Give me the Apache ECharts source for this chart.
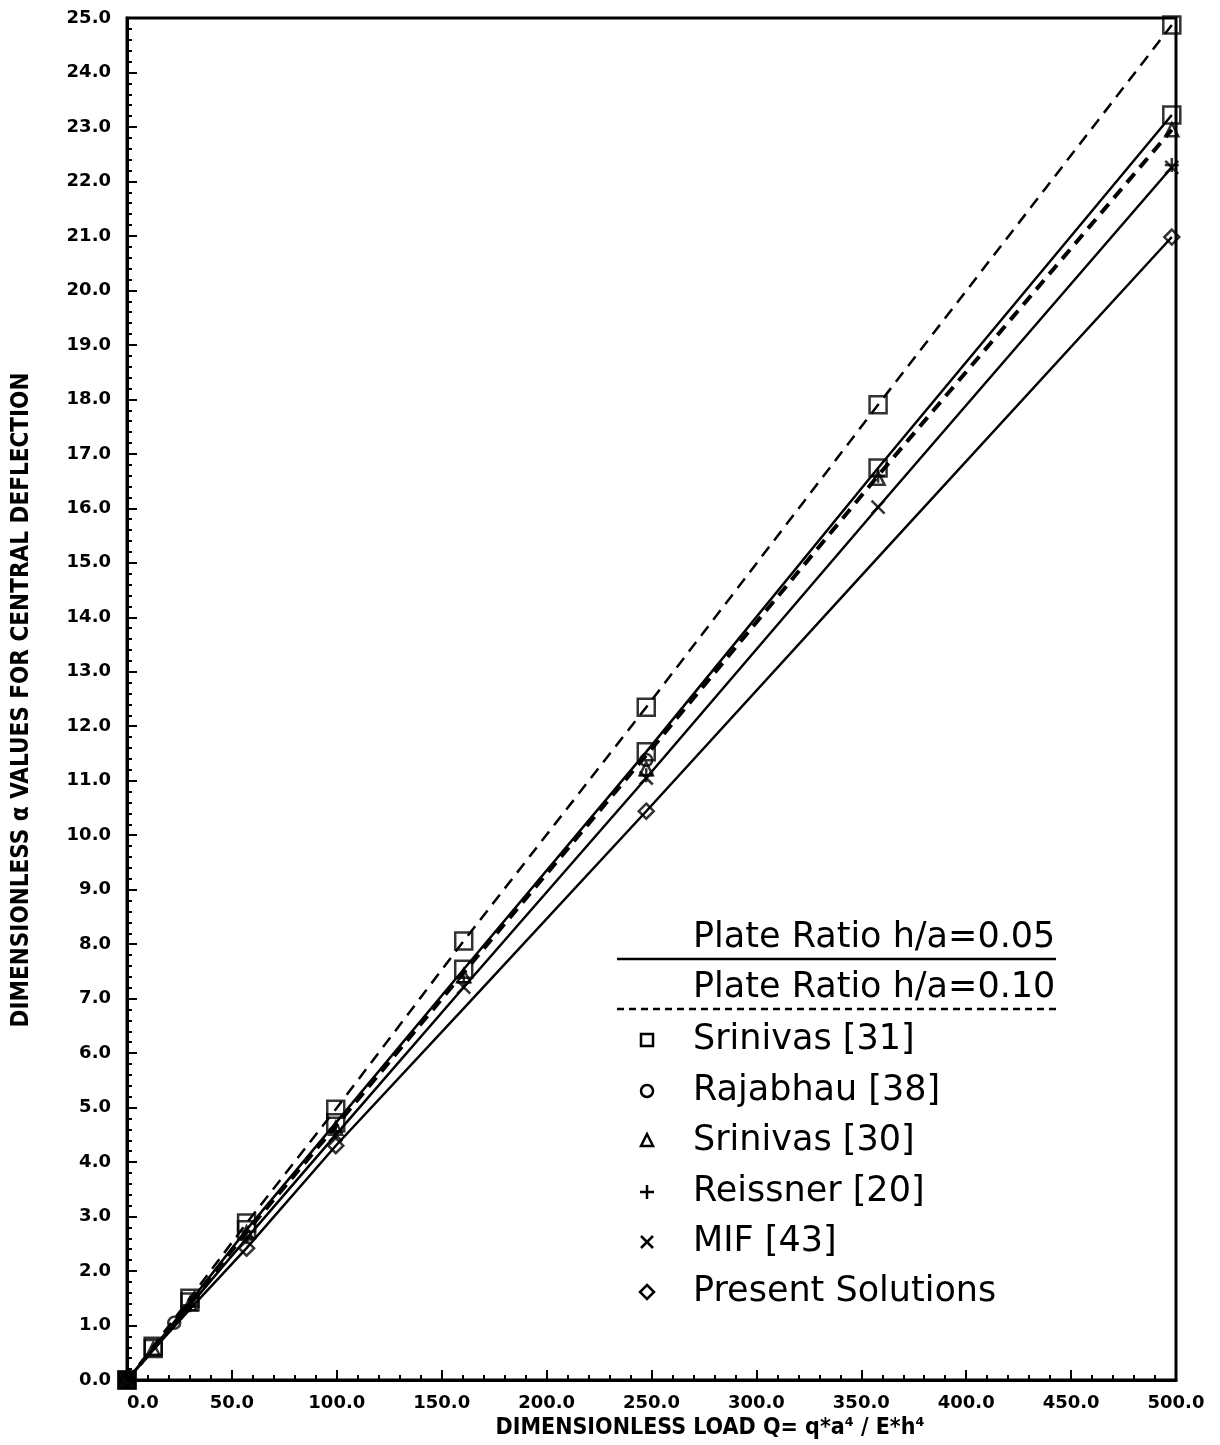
<!DOCTYPE html>
<html>
<head>
<meta charset="utf-8">
<script src="https://cdn.jsdelivr.net/npm/echarts@6/dist/echarts.min.js"></script>
<style>
html,body{margin:0;padding:0;background:#fff;}
#chart{width:1220px;height:1445px;}
</style>
</head>
<body>
<div id="chart"></div>
<script>
// Dimensionless load values Q
const loadQ = [0, 12.5, 30, 57, 99.5, 160.5, 247.5, 358, 498];
// Curves (alpha values)
const srinivas31H010 = [0, 0.62, 1.50, 2.88, 4.97, 8.06, 12.35, 17.90, 24.87];
const srinivas31H005 = [0, 0.58, 1.43, 2.76, 4.72, 7.54, 11.53, 16.74, 23.22];
const otherH010 = [0, 0.57, 1.41, 2.72, 4.66, 7.48, 11.47, 16.60, 22.95];
const reissnerH005 = [0, 0.56, 1.37, 2.60, 4.50, 7.21, 11.05, 16.02, 22.26];
const presentH005 = [0, 0.55, 1.30, 2.42, 4.30, 6.82, 10.44, 15.10, 20.98];
// Marker sets
const rajabhauQ = [22.5, 247.5];
const rajabhauV = [1.05, 11.38];
const srinivas30Q = [12.5, 30, 57, 99.5, 160.5, 247.5, 358, 498];
const srinivas30V = [0.57, 1.40, 2.70, 4.62, 7.42, 11.22, 16.55, 22.95];
const reissnerQ = [30, 57, 99.5, 160.5, 247.5, 358, 498];
const reissnerV = [1.37, 2.62, 4.55, 7.30, 11.10, 16.60, 22.30];
const mifQ = [99.5, 160.5, 247.5, 358, 498];
const mifV = [4.50, 7.21, 11.05, 16.02, 22.26];
const presentQ = [0, 57, 99.5, 247.5, 498];
const presentV = [0, 2.42, 4.30, 10.44, 20.98];
// Legend texts
const ratioLabels = ['Plate Ratio h/a=0.05', 'Plate Ratio h/a=0.10'];
const markerLabels = ['Srinivas [31]', 'Rajabhau [38]', 'Srinivas [30]', 'Reissner [20]', 'MIF [43]', 'Present Solutions'];

function pairs(xs, ys) { return xs.map((x, i) => [x, ys[i]]); }

const chart = echarts.init(document.getElementById('chart'), null, {renderer: 'canvas'});
const tickFont = {fontFamily: 'DejaVu Sans', fontWeight: 'bold', fontSize: 18, color: '#000'};
const titleFont = '"DejaVu Sans Condensed", "Liberation Sans Narrow", sans-serif';
const legFont = '35px "DejaVu Sans"';

function lineSeries(name, ys, width, dash) {
  return {
    name: name, type: 'line', data: pairs(loadQ, ys), symbol: 'none', z: 2,
    lineStyle: {color: '#000', width: width, type: dash ? dash : 'solid'}
  };
}
function markerSeries(name, data, symbol, size) {
  return {
    name: name, type: 'scatter', data: data, symbol: symbol, symbolSize: size, z: 4,
    itemStyle: {color: 'rgba(0,0,0,0)', borderColor: '#000', borderWidth: 2.5}
  };
}
const squareData = pairs(loadQ, srinivas31H010).concat(pairs(loadQ, srinivas31H005)).map(p =>
  p[0] === 0 ? {value: p, itemStyle: {color: '#000'}} : p);

const plusPath = 'path://M5,0L5,10M0,5L10,5';
const crossPath = 'path://M0,0L10,10M0,10L10,0';

const legX = 647, legTextX = 693;
const rowY = [1040, 1091, 1141, 1192, 1242, 1292];
const graphic = [
  {type: 'text', x: 710, y: 1428, style: {text: 'DIMENSIONLESS LOAD Q= q*a\u2074 / E*h\u2074', font: 'bold 23px ' + titleFont, fill: '#000', align: 'center', verticalAlign: 'middle'}},
  {type: 'text', x: 22, y: 700, rotation: Math.PI / 2, style: {text: 'DIMENSIONLESS \u03b1 VALUES FOR CENTRAL DEFLECTION', font: 'bold 24px ' + titleFont, fill: '#000', align: 'center', verticalAlign: 'middle'}},
  {type: 'text', x: legTextX, y: 938, style: {text: ratioLabels[0], font: legFont, fill: '#000', align: 'left', verticalAlign: 'middle'}},
  {type: 'line', shape: {x1: 617, y1: 959, x2: 1056, y2: 959}, style: {stroke: '#000', lineWidth: 2.5}},
  {type: 'text', x: legTextX, y: 988, style: {text: ratioLabels[1], font: legFont, fill: '#000', align: 'left', verticalAlign: 'middle'}},
  {type: 'line', shape: {x1: 617, y1: 1009, x2: 1056, y2: 1009}, style: {stroke: '#000', lineWidth: 2.5, lineDash: [7, 5]}},
  {type: 'rect', shape: {x: legX - 6, y: rowY[0] - 6, width: 12, height: 12}, style: {fill: 'none', stroke: '#000', lineWidth: 2.5}},
  {type: 'circle', shape: {cx: legX, cy: rowY[1], r: 6}, style: {fill: 'none', stroke: '#000', lineWidth: 2.5}},
  {type: 'polygon', shape: {points: [[legX, rowY[2] - 7], [legX + 6, rowY[2] + 5], [legX - 6, rowY[2] + 5]]}, style: {fill: 'none', stroke: '#000', lineWidth: 2.5}},
  {type: 'polyline', shape: {points: [[legX, rowY[3] - 7], [legX, rowY[3] + 7]]}, style: {stroke: '#000', lineWidth: 2.5}},
  {type: 'polyline', shape: {points: [[legX - 7, rowY[3]], [legX + 7, rowY[3]]]}, style: {stroke: '#000', lineWidth: 2.5}},
  {type: 'polyline', shape: {points: [[legX - 6, rowY[4] - 6], [legX + 6, rowY[4] + 6]]}, style: {stroke: '#000', lineWidth: 2.5}},
  {type: 'polyline', shape: {points: [[legX - 6, rowY[4] + 6], [legX + 6, rowY[4] - 6]]}, style: {stroke: '#000', lineWidth: 2.5}},
  {type: 'polygon', shape: {points: [[legX, rowY[5] - 7], [legX + 7, rowY[5]], [legX, rowY[5] + 7], [legX - 7, rowY[5]]]}, style: {fill: 'none', stroke: '#000', lineWidth: 2.5}}
];
markerLabels.forEach((t, i) => {
  graphic.push({type: 'text', x: legTextX, y: rowY[i], style: {text: t, font: legFont, fill: '#000', align: 'left', verticalAlign: 'middle'}});
});

const option = {
  animation: false,
  backgroundColor: '#fff',
  grid: {left: 127, right: 44, top: 18, bottom: 65, containLabel: false, show: true, borderColor: '#000', borderWidth: 3, backgroundColor: 'rgba(0,0,0,0)'},
  xAxis: {
    type: 'value', min: 0, max: 500, interval: 50,
    axisLine: {show: true, lineStyle: {color: '#000', width: 3}},
    axisTick: {show: true, inside: true, length: 10, lineStyle: {color: '#000', width: 2}},
    minorTick: {show: true, splitNumber: 5, length: 5, lineStyle: {color: '#000', width: 2}},
    splitLine: {show: false},
    axisLabel: Object.assign({margin: 14, formatter: v => v.toFixed(1), alignMinLabel: 'left'}, tickFont)
  },
  yAxis: {
    type: 'value', min: 0, max: 25, interval: 1,
    axisLine: {show: true, lineStyle: {color: '#000', width: 3}},
    axisTick: {show: true, inside: true, length: 10, lineStyle: {color: '#000', width: 2}},
    minorTick: {show: true, splitNumber: 5, length: 5, lineStyle: {color: '#000', width: 2}},
    splitLine: {show: false},
    axisLabel: Object.assign({margin: 16, formatter: v => v.toFixed(1)}, tickFont)
  },
  series: [
    lineSeries('Srinivas [31] h/a=0.10', srinivas31H010, 2.5, [12, 8]),
    lineSeries('Srinivas [31] h/a=0.05', srinivas31H005, 2.5),
    lineSeries('h/a=0.10', otherH010, 4, [12, 8]),
    lineSeries('Reissner h/a=0.05', reissnerH005, 2.5),
    lineSeries('Present h/a=0.05', presentH005, 2.5),
    markerSeries('Srinivas [31]', squareData, 'rect', 17),
    markerSeries('Rajabhau [38]', pairs(rajabhauQ, rajabhauV), 'circle', 12),
    markerSeries('Srinivas [30]', pairs(srinivas30Q, srinivas30V), 'triangle', 13),
    markerSeries('Reissner [20]', pairs(reissnerQ, reissnerV), plusPath, 14),
    markerSeries('MIF [43]', pairs(mifQ, mifV), crossPath, 13),
    markerSeries('Present Solutions', pairs(presentQ, presentV), 'diamond', 15)
  ],
  graphic: graphic
};
chart.setOption(option);
</script>
</body>
</html>
